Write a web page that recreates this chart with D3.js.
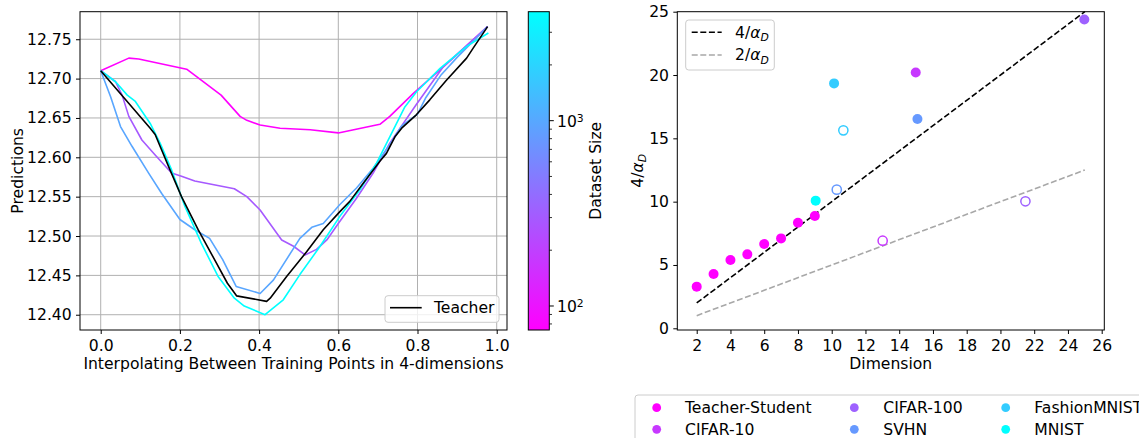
<!DOCTYPE html>
<html><head><meta charset="utf-8">
<script src="https://cdn.jsdelivr.net/npm/d3@7"></script>
<style>
html,body{margin:0;padding:0;background:#fff;}
svg text{font-family:"DejaVu Sans",sans-serif;fill:#000;}
</style></head>
<body><svg id="c" width="1139" height="438"></svg>
<script>
// ---------- LEFT PANEL DATA ----------
const xTicksLeft = [0, 0.2, 0.4, 0.6, 0.8, 1.0];
const yTicksLeft = [12.40, 12.45, 12.50, 12.55, 12.60, 12.65, 12.70, 12.75];

const teacherX = [0, 0.125, 0.1375, 0.175, 0.204, 0.246, 0.2875, 0.32, 0.343, 0.419, 0.428, 0.470, 0.520, 0.562, 0.604, 0.629, 0.663, 0.705, 0.7215, 0.743, 0.76, 0.797, 0.831, 0.873, 0.924, 0.941, 0.977];
const teacherY = [12.710, 12.637, 12.629, 12.584, 12.550, 12.508, 12.470, 12.440, 12.424, 12.417, 12.421, 12.449, 12.480, 12.508, 12.531, 12.544, 12.567, 12.595, 12.605, 12.626, 12.637, 12.654, 12.673, 12.698, 12.726, 12.739, 12.766];

const magentaX = [0, 0.071, 0.096, 0.217, 0.304, 0.352, 0.369, 0.4025, 0.453, 0.529, 0.6, 0.705, 0.730, 0.789, 0.865, 0.977];
const magentaY = [12.710, 12.726, 12.725, 12.712, 12.679, 12.652, 12.647, 12.641, 12.637, 12.635, 12.631, 12.642, 12.652, 12.681, 12.715, 12.766];

const purpleX = [0, 0.0375, 0.054, 0.071, 0.104, 0.1375, 0.179, 0.204, 0.2375, 0.3375, 0.369, 0.4025, 0.457, 0.487, 0.516, 0.545, 0.571, 0.6, 0.646, 0.688, 0.730, 0.797, 0.865, 0.977];
const purpleY = [12.710, 12.696, 12.679, 12.652, 12.622, 12.603, 12.580, 12.576, 12.570, 12.560, 12.550, 12.533, 12.495, 12.487, 12.476, 12.483, 12.495, 12.516, 12.548, 12.580, 12.618, 12.667, 12.715, 12.766];

const blueX = [0, 0.025, 0.05, 0.079, 0.121, 0.154, 0.2, 0.2375, 0.275, 0.308, 0.342, 0.4025, 0.436, 0.503, 0.533, 0.562, 0.604, 0.646, 0.688, 0.730, 0.76, 0.8, 0.82, 0.86, 0.9, 0.977];
const blueY = [12.710, 12.677, 12.639, 12.614, 12.580, 12.554, 12.521, 12.508, 12.497, 12.470, 12.436, 12.427, 12.444, 12.497, 12.511, 12.516, 12.540, 12.561, 12.586, 12.616, 12.640, 12.655, 12.675, 12.705, 12.727, 12.766];

const cyanX = [0, 0.0375, 0.067, 0.0875, 0.125, 0.15, 0.179, 0.2125, 0.254, 0.296, 0.3375, 0.3625, 0.415, 0.461, 0.503, 0.554, 0.604, 0.655, 0.697, 0.730, 0.768, 0.797, 0.857, 0.924, 0.979];
const cyanY = [12.710, 12.696, 12.679, 12.671, 12.643, 12.618, 12.584, 12.538, 12.491, 12.449, 12.421, 12.411, 12.400, 12.419, 12.451, 12.487, 12.525, 12.559, 12.593, 12.626, 12.664, 12.683, 12.713, 12.741, 12.758];

// ---------- COLORBAR ----------
const cbMajorTicks = [100, 1000];
const cbMinorTicks = [80, 90, 200, 300, 400, 500, 600, 700, 800, 900, 2000, 3000];

// ---------- RIGHT PANEL DATA ----------
const xTicksRight = [2, 4, 6, 8, 10, 12, 14, 16, 18, 20, 22, 24, 26];
const yTicksRight = [0, 5, 10, 15, 20, 25];
const tsDims = [2, 3, 4, 5, 6, 7, 8, 9];
const tsVals = [3.29, 4.29, 5.39, 5.84, 6.66, 7.10, 8.34, 8.87];
const dsNames = ["CIFAR-10", "CIFAR-100", "SVHN", "FashionMNIST", "MNIST"];
const dsFilledDims = [14.98, 24.97, 15.08, 10.14, 9.05];
const dsFilledVals = [20.2, 24.39, 16.53, 19.34, 10.08];
const dsOpenDims = [13.02, 21.48, 10.3, 10.69, null];
const dsOpenVals = [6.92, 10.03, 10.95, 15.63, null];
const lineDims = [2, 25];
const legendOrder = ["Teacher-Student", "CIFAR-10", "CIFAR-100", "SVHN", "FashionMNIST", "MNIST"];

// ---------- drawing ----------
const cool = t => d3.rgb(Math.round(255 * t), Math.round(255 * (1 - t)), 255).formatHex();
const colors = {
  "Teacher-Student": cool(1.0),
  "CIFAR-10": cool(0.78),
  "CIFAR-100": cool(0.62),
  "SVHN": cool(0.40),
  "FashionMNIST": cool(0.20),
  "MNIST": cool(0.0)
};
const svg = d3.select("#c");
const FS = 15.6;

// Left panel
const L = {l: 80, r: 507, t: 11.7, b: 330};
const xL = d3.scaleLinear().domain([-0.0523, 1.026]).range([L.l, L.r]);
const yL = d3.scaleLinear().domain([12.3806, 12.785]).range([L.b, L.t]);

const gL = svg.append("g");
gL.append("g").selectAll("line").data(xTicksLeft).join("line")
  .attr("x1", d => xL(d)).attr("x2", d => xL(d)).attr("y1", L.t).attr("y2", L.b)
  .attr("stroke", "#b0b0b0").attr("stroke-width", 1);
gL.append("g").selectAll("line").data(yTicksLeft).join("line")
  .attr("x1", L.l).attr("x2", L.r).attr("y1", d => yL(d)).attr("y2", d => yL(d))
  .attr("stroke", "#b0b0b0").attr("stroke-width", 1);

const lineGen = d3.line().x(d => xL(d[0])).y(d => yL(d[1]));
const leftSeries = [
  {x: magentaX, y: magentaY, c: cool(1.0)},
  {x: purpleX, y: purpleY, c: cool(0.65)},
  {x: blueX, y: blueY, c: cool(0.35)},
  {x: cyanX, y: cyanY, c: cool(0.0)},
  {x: teacherX, y: teacherY, c: "#000"}
];
leftSeries.forEach(s => {
  gL.append("path").datum(s.x.map((v, i) => [v, s.y[i]]))
    .attr("d", lineGen).attr("fill", "none").attr("stroke", s.c).attr("stroke-width", 1.6)
    .attr("stroke-linejoin", "round");
});
const axL = gL.append("g").attr("transform", `translate(0,${L.b})`)
  .call(d3.axisBottom(xL).tickValues(xTicksLeft).tickFormat(d3.format(".1f")).tickSize(4).tickPadding(6));
const ayL = gL.append("g").attr("transform", `translate(${L.l},0)`)
  .call(d3.axisLeft(yL).tickValues(yTicksLeft).tickFormat(d3.format(".2f")).tickSize(4).tickPadding(4.3));
[axL, ayL].forEach(a => {
  a.select(".domain").remove();
  a.selectAll("text").attr("font-size", FS).attr("font-family", "DejaVu Sans");
  a.selectAll("line").attr("stroke", "#000").attr("stroke-width", 1);
});
gL.append("rect").attr("x", L.l).attr("y", L.t).attr("width", L.r - L.l).attr("height", L.b - L.t)
  .attr("fill", "none").attr("stroke", "#000").attr("stroke-width", 1);
gL.append("text").attr("x", (L.l + L.r) / 2).attr("y", 368.5).attr("text-anchor", "middle")
  .attr("font-size", FS).text("Interpolating Between Training Points in 4-dimensions");
gL.append("text").attr("transform", `translate(23,${(L.t + L.b) / 2}) rotate(-90)`).attr("text-anchor", "middle")
  .attr("font-size", FS).text("Predictions");
gL.append("rect").attr("x", 385).attr("y", 295.7).attr("width", 114).attr("height", 26.6).attr("rx", 3)
  .attr("fill", "#fff").attr("fill-opacity", 0.8).attr("stroke", "#ccc").attr("stroke-width", 1);
gL.append("line").attr("x1", 390).attr("x2", 421.7).attr("y1", 307.7).attr("y2", 307.7)
  .attr("stroke", "#000").attr("stroke-width", 1.6);
gL.append("text").attr("x", 434).attr("y", 307.7).attr("dy", "0.35em").attr("font-size", FS).text("Teacher");

// Colorbar
const CB = {l: 528.3, r: 549.3, t: 11.7, b: 330};
const cbScale = d3.scaleLog().domain([74.2, 3874]).range([CB.b, CB.t]);
const defs = svg.append("defs");
const grad = defs.append("linearGradient").attr("id", "cbg").attr("x1", 0).attr("x2", 0).attr("y1", 1).attr("y2", 0);
grad.append("stop").attr("offset", "0%").attr("stop-color", cool(1));
grad.append("stop").attr("offset", "100%").attr("stop-color", cool(0));
svg.append("rect").attr("x", CB.l).attr("y", CB.t).attr("width", CB.r - CB.l).attr("height", CB.b - CB.t)
  .attr("fill", "url(#cbg)").attr("stroke", "#000").attr("stroke-width", 1);
svg.append("g").selectAll("line").data(cbMinorTicks).join("line")
  .attr("x1", CB.r).attr("x2", CB.r + 2.7).attr("y1", d => cbScale(d)).attr("y2", d => cbScale(d))
  .attr("stroke", "#000").attr("stroke-width", 0.8);
svg.append("g").selectAll("line").data(cbMajorTicks).join("line")
  .attr("x1", CB.r).attr("x2", CB.r + 4.5).attr("y1", d => cbScale(d)).attr("y2", d => cbScale(d))
  .attr("stroke", "#000").attr("stroke-width", 1);
const cbl = svg.append("g").selectAll("text").data(cbMajorTicks).join("text")
  .attr("x", 557).attr("y", d => cbScale(d)).attr("dy", "0.4em").attr("font-size", FS);
cbl.append("tspan").text("10");
cbl.append("tspan").attr("dy", "-0.45em").attr("font-size", 10.8).text(d => Math.round(Math.log10(d)));
svg.append("text").attr("transform", `translate(601,${(CB.t + CB.b) / 2}) rotate(-90)`).attr("text-anchor", "middle")
  .attr("font-size", FS).text("Dataset Size");

// Right panel
const R = {l: 677.3, r: 1104.3, t: 11.7, b: 330};
const xR = d3.scaleLinear().domain([0.85, 26.154]).range([R.l, R.r]);
const yR = d3.scaleLinear().domain([-0.134, 25]).range([R.b, R.t]);
const gR = svg.append("g");
const axR = gR.append("g").attr("transform", `translate(0,${R.b})`)
  .call(d3.axisBottom(xR).tickValues(xTicksRight).tickSize(4).tickPadding(6));
const ayR = gR.append("g").attr("transform", `translate(${R.l},0)`)
  .call(d3.axisLeft(yR).tickValues(yTicksRight).tickSize(4).tickPadding(4.3));
[axR, ayR].forEach(a => {
  a.select(".domain").remove();
  a.selectAll("text").attr("font-size", FS).attr("font-family", "DejaVu Sans");
  a.selectAll("line").attr("stroke", "#000").attr("stroke-width", 1);
});
const rl = d3.line().x(d => xR(d[0])).y(d => yR(d[1]));
gR.append("path").datum(lineDims.map(d => [d, d / 2])).attr("d", rl)
  .attr("fill", "none").attr("stroke", "#a8a8a8").attr("stroke-width", 1.6).attr("stroke-dasharray", "6,2.6");
gR.append("path").datum(lineDims.map(d => [d, d])).attr("d", rl)
  .attr("fill", "none").attr("stroke", "#000").attr("stroke-width", 1.6).attr("stroke-dasharray", "6,2.6");
gR.append("g").selectAll("circle").data(tsDims).join("circle")
  .attr("cx", d => xR(d)).attr("cy", (d, i) => yR(tsVals[i])).attr("r", 5)
  .attr("fill", colors["Teacher-Student"]);
gR.append("g").selectAll("circle").data(dsNames).join("circle")
  .attr("cx", (d, i) => xR(dsFilledDims[i])).attr("cy", (d, i) => yR(dsFilledVals[i])).attr("r", 5)
  .attr("fill", d => colors[d]);
gR.append("g").selectAll("circle").data(dsNames.filter((d, i) => dsOpenDims[i] !== null)).join("circle")
  .attr("cx", (d, i) => xR(dsOpenDims[i])).attr("cy", (d, i) => yR(dsOpenVals[i])).attr("r", 4.6)
  .attr("fill", "#fff").attr("stroke", d => colors[d]).attr("stroke-width", 1.5);
gR.append("rect").attr("x", R.l).attr("y", R.t).attr("width", R.r - R.l).attr("height", R.b - R.t)
  .attr("fill", "none").attr("stroke", "#000").attr("stroke-width", 1);
gR.append("text").attr("x", (R.l + R.r) / 2).attr("y", 368.5).attr("text-anchor", "middle")
  .attr("font-size", FS).text("Dimension");
const ylab = gR.append("text").attr("transform", `translate(643,${(R.t + R.b) / 2}) rotate(-90)`).attr("text-anchor", "middle")
  .attr("font-size", FS);
ylab.append("tspan").text("4/");
ylab.append("tspan").attr("font-style", "italic").text("α");
ylab.append("tspan").attr("font-style", "italic").attr("font-size", 10.8).attr("dy", "0.3em").text("D");
gR.append("rect").attr("x", 685.7).attr("y", 20).attr("width", 88.6).attr("height", 50).attr("rx", 3)
  .attr("fill", "#fff").attr("fill-opacity", 0.8).attr("stroke", "#ccc").attr("stroke-width", 1);
const legItems = [{n: "4", c: "#000", y: 32.3}, {n: "2", c: "#a8a8a8", y: 55}];
legItems.forEach(it => {
  gR.append("line").attr("x1", 691.7).attr("x2", 721.7).attr("y1", it.y).attr("y2", it.y)
    .attr("stroke", it.c).attr("stroke-width", 1.6).attr("stroke-dasharray", "6,2.6");
  const t = gR.append("text").attr("x", 735).attr("y", it.y).attr("dy", "0.35em").attr("font-size", FS);
  t.append("tspan").text(it.n + "/");
  t.append("tspan").attr("font-style", "italic").text("α");
  t.append("tspan").attr("font-style", "italic").attr("font-size", 10.8).attr("dy", "0.3em").text("D");
});

// bottom legend
svg.append("rect").attr("x", 635).attr("y", 395).attr("width", 520).attr("height", 60).attr("rx", 3)
  .attr("fill", "#fff").attr("stroke", "#ccc").attr("stroke-width", 1);
const colMx = [656.7, 854.3, 1005.7], colTx = [685, 883.3, 1034.3], rowY = [407.7, 429.3];
legendOrder.forEach((name, i) => {
  const col = Math.floor(i / 2), row = i % 2;
  svg.append("circle").attr("cx", colMx[col]).attr("cy", rowY[row]).attr("r", 4.4).attr("fill", colors[name]);
  svg.append("text").attr("x", colTx[col]).attr("y", rowY[row]).attr("dy", "0.35em").attr("font-size", FS).text(name);
});
</script></body></html>
